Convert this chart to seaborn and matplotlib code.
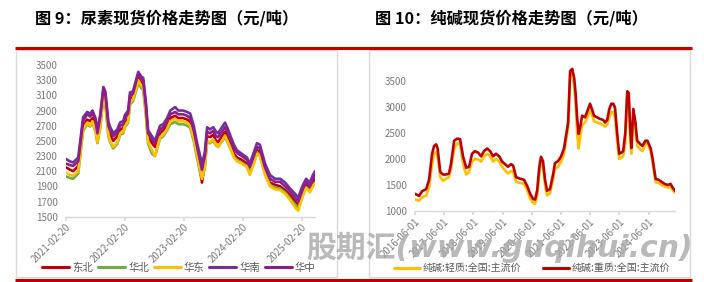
import matplotlib
matplotlib.use("Agg")
import matplotlib.pyplot as plt
import seaborn as sns
import pandas as pd
from matplotlib.patches import Rectangle
from matplotlib.lines import Line2D

# ---------------- data: urea (left) ----------------
urea_dates = [
    "2021-02-20", "2021-03-17", "2021-04-05", "2021-05-07", "2021-06-06", "2021-07-01", "2021-07-20", "2021-08-03", "2021-08-22", "2021-09-03",
    "2021-09-21", "2021-10-10", "2021-10-22", "2021-11-10", "2021-11-21", "2021-12-10", "2022-01-04", "2022-01-22", "2022-02-10", "2022-02-20",
    "2022-03-12", "2022-03-24", "2022-04-11", "2022-04-30", "2022-05-14", "2022-06-01", "2022-06-14", "2022-07-01", "2022-07-14", "2022-08-07",
    "2022-08-26", "2022-09-26", "2022-10-16", "2022-11-09", "2022-11-29", "2022-12-29", "2023-01-17", "2023-02-16", "2023-03-14", "2023-04-01",
    "2023-04-23", "2023-05-11", "2023-06-02", "2023-06-13", "2023-07-01", "2023-07-15", "2023-08-02", "2023-08-22", "2023-09-09", "2023-09-21",
    "2023-10-15", "2023-11-03", "2023-11-22", "2023-12-04", "2023-12-28", "2024-01-16", "2024-02-15", "2024-03-18", "2024-04-05", "2024-04-30",
    "2024-05-19", "2024-06-06", "2024-07-08", "2024-08-08", "2024-09-09", "2024-10-10", "2024-11-10", "2024-12-11", "2025-01-11", "2025-01-30",
    "2025-02-24", "2025-03-20", "2025-04-12", "2025-05-01", "2025-05-14",
]
urea_dongbei = [
    2150, 2120, 2100, 2170, 2700, 2780, 2760, 2800, 2700, 2550,
    2750, 3150, 3050, 2650, 2580, 2500, 2560, 2650, 2670, 2750,
    2800, 3050, 3080, 3220, 3330, 3270, 3230, 2900, 2560, 2470,
    2420, 2600, 2640, 2700, 2800, 2830, 2800, 2800, 2780, 2750,
    2580, 2380, 2100, 1950, 2200, 2560, 2550, 2580, 2500, 2480,
    2560, 2620, 2540, 2470, 2330, 2280, 2250, 2200, 2100, 2250,
    2380, 2350, 2100, 1950, 1920, 1900, 1850, 1780, 1700, 1650,
    1800, 1920, 1860, 1950, 1990,
]
urea_huabei = [
    2030, 2010, 2000, 2070, 2630, 2720, 2690, 2740, 2620, 2470,
    2680, 3080, 2980, 2560, 2480, 2400, 2460, 2580, 2600, 2680,
    2740, 2980, 3020, 3150, 3260, 3200, 3170, 2820, 2460, 2330,
    2300, 2530, 2560, 2640, 2720, 2750, 2720, 2720, 2700, 2670,
    2500, 2300, 2080, 2000, 2150, 2480, 2470, 2500, 2440, 2420,
    2490, 2550, 2470, 2410, 2290, 2250, 2210, 2170, 2080, 2220,
    2350, 2320, 2070, 1920, 1880, 1870, 1820, 1740, 1660, 1620,
    1770, 1890, 1840, 1910, 1950,
]
urea_huadong = [
    2080, 2050, 2040, 2100, 2650, 2740, 2700, 2760, 2640, 2480,
    2700, 3100, 3000, 2580, 2500, 2420, 2480, 2600, 2620, 2700,
    2760, 3000, 3050, 3180, 3300, 3230, 3200, 2850, 2480, 2380,
    2300, 2550, 2580, 2660, 2760, 2790, 2760, 2760, 2740, 2700,
    2530, 2330, 2120, 2000, 2150, 2500, 2480, 2520, 2450, 2420,
    2500, 2570, 2480, 2420, 2280, 2230, 2200, 2150, 2050, 2200,
    2330, 2300, 2050, 1900, 1860, 1850, 1800, 1720, 1620, 1580,
    1750, 1880, 1820, 1900, 1940,
]
urea_huanan = [
    2260, 2230, 2215, 2280, 2810, 2880, 2860, 2900, 2800, 2640,
    2850, 3210, 3150, 2750, 2680, 2600, 2650, 2745, 2760, 2840,
    2900, 3140, 3150, 3300, 3410, 3350, 3330, 3000, 2640, 2560,
    2500, 2700, 2720, 2800, 2900, 2945, 2900, 2900, 2880, 2860,
    2700, 2500, 2300, 2200, 2350, 2680, 2650, 2680, 2620, 2600,
    2680, 2740, 2650, 2580, 2450, 2375, 2330, 2280, 2200, 2350,
    2470, 2450, 2200, 2050, 2000, 2000, 1950, 1870, 1800, 1750,
    1900, 2000, 1950, 2050, 2100,
]
urea_huazhong = [
    2200, 2180, 2170, 2230, 2760, 2850, 2820, 2870, 2760, 2600,
    2830, 3200, 3120, 2700, 2640, 2560, 2610, 2700, 2720, 2800,
    2860, 3100, 3120, 3270, 3380, 3320, 3290, 2950, 2600, 2520,
    2470, 2650, 2680, 2760, 2850, 2880, 2850, 2850, 2830, 2800,
    2640, 2450, 2230, 2120, 2300, 2620, 2600, 2630, 2560, 2550,
    2620, 2680, 2600, 2530, 2400, 2340, 2300, 2250, 2160, 2300,
    2420, 2400, 2150, 2000, 1960, 1960, 1900, 1830, 1750, 1700,
    1850, 1960, 1900, 1990, 2050,
]
urea_regions = ["东北", "华北", "华东", "华南", "华中"]
urea_colors = ["#C00000", "#70AD47", "#FFC000", "#7030A0", "#8E1E8A"]
urea_ticks = ["2021-02-20", "2022-02-20", "2023-02-20", "2024-02-20", "2025-02-20"]
urea_yticks = [1500, 1700, 1900, 2100, 2300, 2500, 2700, 2900, 3100, 3300, 3500]

# ---------------- data: soda ash (right) ----------------
soda_dates = [
    "2016-06-01", "2016-07-23", "2016-08-29", "2016-10-19", "2016-11-24",
    "2017-01-01", "2017-01-26", "2017-02-21", "2017-03-11", "2017-04-13", "2017-05-19", "2017-06-24", "2017-07-31", "2017-08-25", "2017-10-04", "2017-11-10", "2017-12-17",
    "2018-01-23", "2018-03-04", "2018-04-09", "2018-05-16", "2018-06-21", "2018-07-31", "2018-09-06", "2018-10-12", "2018-11-21", "2018-12-28",
    "2019-02-03", "2019-03-11", "2019-04-20", "2019-05-27", "2019-07-02", "2019-08-08", "2019-09-17", "2019-10-12", "2019-11-18",
    "2020-01-08", "2020-02-25", "2020-04-05", "2020-05-12", "2020-06-18", "2020-07-13", "2020-08-08", "2020-09-02", "2020-09-24", "2020-10-19", "2020-11-14", "2020-12-09",
    "2021-01-15", "2021-02-24", "2021-03-18", "2021-04-27", "2021-06-03", "2021-07-09", "2021-08-04", "2021-08-30", "2021-09-24", "2021-10-20", "2021-11-14", "2021-12-02", "2021-12-20",
    "2022-01-08", "2022-01-26", "2022-02-21", "2022-03-29", "2022-05-05", "2022-05-31", "2022-06-25", "2022-07-20", "2022-08-26", "2022-10-01", "2022-11-10", "2022-12-06",
    "2023-01-01", "2023-01-26", "2023-02-21", "2023-03-18", "2023-04-09", "2023-05-05", "2023-05-31", "2023-06-25", "2023-07-20", "2023-08-15", "2023-09-09", "2023-09-27", "2023-10-15", "2023-10-30", "2023-11-24", "2023-12-20",
    "2024-01-11", "2024-02-21", "2024-03-17", "2024-04-23", "2024-05-18", "2024-06-28", "2024-07-20", "2024-08-29", "2024-10-04", "2024-11-10", "2024-12-20",
    "2025-01-26", "2025-03-04", "2025-03-29", "2025-04-28",
]
soda_light = [
    1220, 1200, 1260, 1300, 1450, 1900, 2100, 2130, 2050, 1650,
    1580, 1620, 1650, 1800, 2200, 2300, 2280, 1900, 1700, 1750,
    1950, 2000, 1990, 1950, 2050, 2100, 2050, 1950, 2000, 1950,
    1850, 1780, 1720, 1770, 1750, 1560, 1540, 1520, 1400, 1240,
    1150, 1140, 1300, 1700, 1950, 1880, 1500, 1300, 1340, 1620,
    1800, 1850, 1950, 2100, 2350, 2600, 3600, 3650, 3400, 3050,
    2500, 2200, 2400, 2650, 2700, 2820, 2950, 2850, 2720, 2700,
    2680, 2650, 2620, 2660, 2800, 2900, 2900, 2800, 2350, 2000,
    2020, 2050, 2300, 3200, 3150, 2450, 2100, 2800, 2550, 2250,
    2180, 2150, 2280, 2300, 2150, 1950, 1550, 1540, 1500, 1470,
    1450, 1460, 1400, 1350,
]
soda_heavy = [
    1330, 1290, 1380, 1420, 1600, 2100, 2250, 2280, 2200, 1750,
    1700, 1700, 1720, 1900, 2350, 2390, 2380, 2050, 1830, 1850,
    2100, 2150, 2120, 2050, 2150, 2200, 2150, 2050, 2100, 2050,
    1950, 1900, 1850, 1900, 1870, 1650, 1620, 1600, 1480, 1330,
    1230, 1220, 1400, 1830, 2040, 1960, 1600, 1390, 1420, 1710,
    1920, 1960, 2050, 2200, 2450, 2700, 3690, 3730, 3550, 3250,
    2800, 2480, 2600, 2830, 2800, 2950, 3060, 2950, 2830, 2800,
    2770, 2750, 2700, 2750, 2950, 3060, 3060, 2980, 2500, 2100,
    2120, 2150, 2500, 3300, 3270, 2600, 2210, 2960, 2700, 2350,
    2280, 2250, 2350, 2350, 2200, 2020, 1615, 1600, 1560, 1520,
    1500, 1520, 1450, 1390,
]
soda_series = ["纯碱:轻质:全国:主流价", "纯碱:重质:全国:主流价"]
soda_colors = ["#FFC000", "#C00000"]
soda_ticks = ["2016-06-01", "2017-06-01", "2018-06-01", "2019-06-01", "2020-06-01",
              "2021-06-01", "2022-06-01", "2023-06-01", "2024-06-01"]
soda_yticks = [1000, 1500, 2000, 2500, 3000, 3500]

title_left = "图 9：尿素现货价格走势图（元/吨）"
title_right = "图 10：纯碱现货价格走势图（元/吨）"
watermark = "股期汇(www.guqihui.cn)"

# ---------------- style ----------------
sns.set_theme(style="white")
plt.rcParams["font.family"] = ["Noto Sans CJK SC", "DejaVu Sans"]
plt.rcParams["axes.unicode_minus"] = False

W, H = 704, 282
fig = plt.figure(figsize=(W / 100, H / 100), dpi=100)
fig.patch.set_facecolor("white")

def fx(px):
    return px / W

def fy(py):
    return 1 - py / H

# frames
for x0, x1 in [(16, 337), (369, 690)]:
    fig.add_artist(Rectangle((fx(x0), fy(277)), fx(x1 - x0), (277 - 50) / H,
                             transform=fig.transFigure, fill=False,
                             edgecolor="#d9d9d9", linewidth=1.0))
fig.add_artist(Line2D([fx(15), fx(692)], [fy(48), fy(48)], transform=fig.transFigure,
                      color="#C00000", linewidth=2.2, solid_capstyle="butt"))
fig.add_artist(Line2D([fx(15), fx(692)], [fy(280), fy(280)], transform=fig.transFigure,
                      color="#C00000", linewidth=2.2, solid_capstyle="butt"))

fig.text(fx(35), fy(18), title_left, fontsize=11.7, fontweight="bold", color="black",
         ha="left", va="center")
fig.text(fx(375), fy(18), title_right, fontsize=11.7, fontweight="bold", color="black",
         ha="left", va="center")

tick_color = "#7a7a7a"

def style_axes(ax):
    for s in ["top", "right", "left"]:
        ax.spines[s].set_visible(False)
    ax.spines["bottom"].set_color("#d9d9d9")
    ax.spines["bottom"].set_linewidth(1.0)
    ax.tick_params(axis="y", length=0, labelsize=7, labelcolor=tick_color, pad=6)
    ax.tick_params(axis="x", length=3, color="#d9d9d9", direction="out",
                   labelsize=7, labelcolor=tick_color, pad=1, bottom=True)
    ax.set_xlabel("")
    ax.set_ylabel("")
    ax.grid(False)
    ax.set_facecolor("none")

# ---------------- left chart ----------------
ax1 = fig.add_axes([fx(66), fy(216.7), fx(315 - 66), (216.7 - 65) / H])
urea_df = pd.DataFrame({
    "date": pd.to_datetime(urea_dates),
    "东北": urea_dongbei, "华北": urea_huabei, "华东": urea_huadong,
    "华南": urea_huanan, "华中": urea_huazhong,
}).melt(id_vars="date", var_name="region", value_name="price")
sns.lineplot(data=urea_df, x="date", y="price", hue="region", hue_order=urea_regions,
             palette=urea_colors, linewidth=1.9, ax=ax1, sort=False)
h1, l1 = ax1.get_legend_handles_labels()
ax1.get_legend().remove()
ax1.set_xlim(pd.Timestamp(urea_dates[0]), pd.Timestamp(urea_dates[-1]))
ax1.set_ylim(1500, 3500)
ax1.set_yticks(urea_yticks)
ax1.set_xticks(pd.to_datetime(urea_ticks))
ax1.set_xticklabels(urea_ticks, rotation=45, ha="right", rotation_mode="anchor")
style_axes(ax1)

# ---------------- right chart ----------------
ax2 = fig.add_axes([fx(415), fy(211), fx(675 - 415), (211 - 60) / H])
soda_df = pd.DataFrame({
    "date": pd.to_datetime(soda_dates),
    soda_series[0]: soda_light, soda_series[1]: soda_heavy,
}).melt(id_vars="date", var_name="series", value_name="price")
sns.lineplot(data=soda_df, x="date", y="price", hue="series", hue_order=soda_series,
             palette=soda_colors, linewidth=1.9, ax=ax2, sort=False)
h2, l2 = ax2.get_legend_handles_labels()
ax2.get_legend().remove()
ax2.set_xlim(pd.Timestamp(soda_dates[0]), pd.Timestamp(soda_dates[-1]))
ax2.set_ylim(1000, 3900)
ax2.set_yticks(soda_yticks)
ax2.set_xticks(pd.to_datetime(soda_ticks))
ax2.set_xticklabels(soda_ticks, rotation=45, ha="right", rotation_mode="anchor")
style_axes(ax2)

# ---------------- legends ----------------
for h in h1 + h2:
    h.set_linewidth(2.2)
fig.legend(h1, l1, loc="center", bbox_to_anchor=(fx(179), fy(268)), ncol=5,
           frameon=False, fontsize=7.5, handlelength=2.6, handletextpad=0.3,
           columnspacing=0.45, labelcolor="#595959", borderpad=0.1)
fig.legend(h2, l2, loc="center", bbox_to_anchor=(fx(532), fy(268)), ncol=2,
           frameon=False, fontsize=7.2, handlelength=2.6, handletextpad=0.3,
           columnspacing=2.1, labelcolor="#595959", borderpad=0.1)

# watermark
fig.text(fx(306), fy(247), watermark, fontsize=21.5, fontweight="bold", style="italic",
         color="#a8a8a8", alpha=0.8, ha="left", va="center",
         family=["DejaVu Sans", "Noto Sans CJK SC"], zorder=10)

fig.savefig("out.png", dpi=100, facecolor="white")
